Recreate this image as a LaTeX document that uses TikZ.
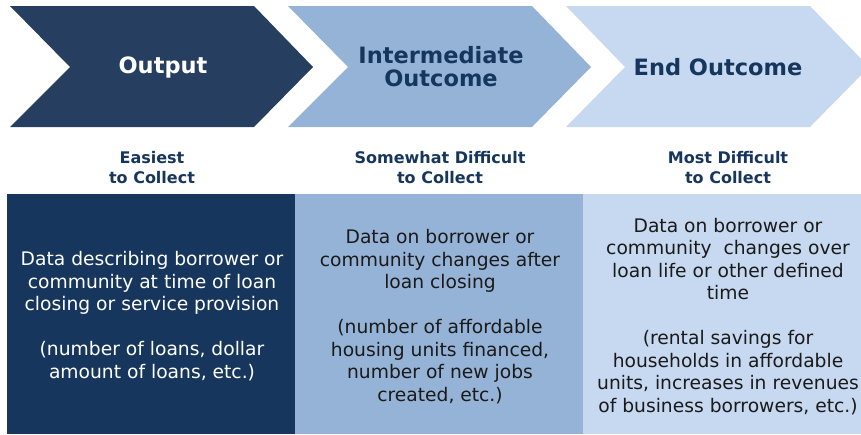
\documentclass[tikz,border=0pt]{standalone}
\usepackage{fontspec}
\setmainfont{DejaVu Sans}
\definecolor{navyA}{HTML}{263F60}
\definecolor{navyB}{HTML}{17365D}
\definecolor{midblue}{HTML}{95B3D7}
\definecolor{lightblue}{HTML}{C6D9F1}
\definecolor{bodyink}{HTML}{1A1A1A}
\tikzset{
  chevtitle/.style={font=\bfseries\fontsize{22.5}{23}\selectfont, align=center, inner sep=0pt},
  headtext/.style={font=\bfseries\fontsize{16}{20}\selectfont, align=center, text=navyB, inner sep=0pt},
  bodytext/.style={font=\fontsize{18.7}{22.5}\selectfont, align=center, inner sep=0pt},
  colbox/.style={draw=none, inner sep=0pt, rectangle}
}
\begin{document}
\begin{tikzpicture}[x=1pt,y=-1pt]
\useasboundingbox (0,0) rectangle (861,434);
\begin{scope}
\clip (0,0) rectangle (861,434);
% chevrons
\fill[navyA] (10,6) -- (254,6) -- (313,67) -- (254,127) -- (10,127) -- (70,67) -- cycle;
\fill[midblue] (288,6) -- (532,6) -- (591,67) -- (532,127) -- (288,127) -- (348,67) -- cycle;
\fill[lightblue] (566,6) -- (810,6) -- (869,67) -- (810,127) -- (566,127) -- (625,67) -- cycle;
% boxes
\fill[navyB] (7,194) rectangle (295,434);
\fill[midblue] (295,194) rectangle (583,434);
\fill[lightblue] (583,194) rectangle (861,434);
\end{scope}
% titles
\node[chevtitle, text=white] (t1) at (163,67) {Output};
\node[chevtitle, text=navyB] (t2) at (441,67) {Intermediate\\Outcome};
\node[chevtitle, text=navyB] (t3) at (718,67) {End Outcome};
% headings
\node[headtext] (h1) at (152,168) {Easiest\\to Collect};
\node[headtext] (h2) at (440,168) {Somewhat Difficult\\to Collect};
\node[headtext] (h3) at (728,168) {Most Difficult\\to Collect};
% body
\node[bodytext, text=white] (b1) at (152,316) {Data describing borrower or\\community at time of loan\\closing or service provision\\[22.5pt](number of loans, dollar\\amount of loans, etc.)};
\node[bodytext, text=bodyink] (b2) at (440,316.5) {Data on borrower or\\community changes after\\loan closing\\[22.5pt](number of affordable\\housing units financed,\\number of new jobs\\created, etc.)};
\node[bodytext, text=bodyink] (b3) at (728,316.5) {Data on borrower or\\community\ \ changes over\\loan life or other defined\\time\\[22.5pt](rental savings for\\households in affordable\\units, increases in revenues\\of business borrowers, etc.)};
\end{tikzpicture}
\end{document}
